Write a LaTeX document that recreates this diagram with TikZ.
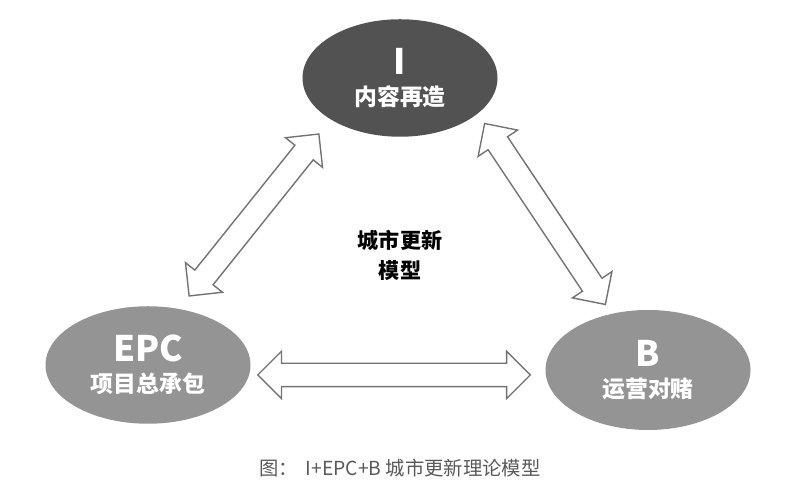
\documentclass[tikz,border=0pt]{standalone}
\usepackage{fontspec}
\setmainfont{Noto Sans CJK SC}
\usetikzlibrary{shapes.arrows, shapes.geometric, calc}
\tikzset{
    part/.style={
        ellipse,
        draw=none,
        text=white,
        align=center,
        font=\bfseries\fontsize{13}{18}\selectfont,
        inner sep=0pt
    },
    dblarrow/.style={
        double arrow,
        draw=black!55,
        line width=0.8pt,
        fill=white,
        double arrow head extend=0.24cm,
        double arrow head indent=0cm,
        inner xsep=0pt,
        inner ysep=0.22cm
    }
}
\begin{document}
\begin{tikzpicture}
\useasboundingbox (0,0) rectangle (16,10);

% three parts
\node[part, fill=black!68, minimum width=3.9cm, minimum height=2.35cm] (inv) at (8,8.44)
    {{\fontsize{20}{24}\selectfont I}\\内容再造};
\node[part, fill=black!42, minimum width=4.1cm, minimum height=2.35cm] (epc) at (2.96,2.7)
    {{\fontsize{20}{24}\selectfont EPC}\\项目总承包};
\node[part, fill=black!42, minimum width=4.1cm, minimum height=2.4cm] (op) at (12.96,2.6)
    {{\fontsize{20}{24}\selectfont B}\\运营对赌};

% centre
\node[align=center, font=\bfseries\fontsize{12}{17}\selectfont] (model) at (8,4.9) {城市更新\\模型};

% links
\node[dblarrow, minimum height=4.15cm, rotate=51.3] (l1) at (5.08,5.7) {};
\node[dblarrow, minimum height=4.35cm, rotate=-56.3] (l2) at (10.9,5.72) {};
\node[dblarrow, minimum height=5.45cm] (l3) at (7.88,2.5) {};

% caption
\node[text=black!65, font=\fontsize{11}{13}\selectfont] (cap) at (8,0.64) {图：\, I+EPC+B 城市更新理论模型};
\end{tikzpicture}
\end{document}
